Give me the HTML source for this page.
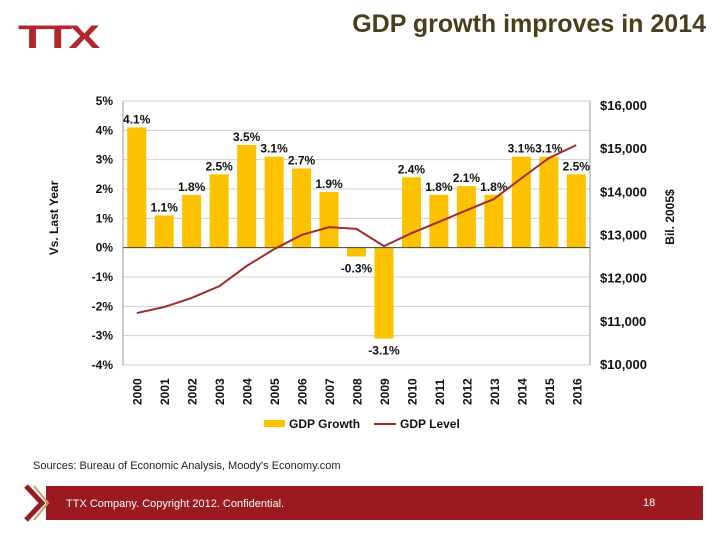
<!DOCTYPE html>
<html><head><meta charset="utf-8">
<style>
body{margin:0;width:720px;height:540px;background:#fff;font-family:"Liberation Sans",Arial,sans-serif;overflow:hidden;position:relative}
.t{position:absolute}
</style></head><body>
<div class="t" style="left:18px;top:20px;font:900 38px 'Liberation Sans',sans-serif;color:#b0272d;letter-spacing:-3px;transform:scale(1.25,0.85);transform-origin:top left">TTX</div>
<div class="t" style="right:14px;top:10px;font:bold 25px 'Liberation Sans',sans-serif;color:#4a3f1c">GDP growth improves in 2014</div>
<svg class="t" style="left:0;top:0" width="720" height="540">
<g id="g"></g>
</svg>
<div class="t" style="left:33px;top:460px;font-size:11px;color:#222">Sources: Bureau of Economic Analysis, Moody's Economy.com</div>
<div class="t" style="left:46px;top:486px;width:657px;height:34px;background:#9b1a1f"></div>
<svg class="t" style="left:22px;top:484px" width="28" height="38"><polyline points="4,2 20,19 4,36" fill="none" stroke="#9b1a1f" stroke-width="5"/><polyline points="12,2 26,19 12,36" fill="none" stroke="#c8a070" stroke-width="2"/></svg>
<div class="t" style="left:66px;top:498px;font-size:11px;color:#fff">TTX Company. Copyright 2012. Confidential.</div>
<div class="t" style="left:643px;top:497px;font-size:11px;color:#fff">18</div>
<script>
const years=["2000","2001","2002","2003","2004","2005","2006","2007","2008","2009","2010","2011","2012","2013","2014","2015","2016"];
const growth=[4.1,1.1,1.8,2.5,3.5,3.1,2.7,1.9,-0.3,-3.1,2.4,1.8,2.1,1.8,3.1,3.1,2.5];
const level=[11180,11320,11530,11800,12270,12660,12990,13170,13130,12730,13030,13290,13560,13820,14300,14770,15070];
const leftTicks=[5,4,3,2,1,0,-1,-2,-3,-4];
const rightTicks=[16000,15000,14000,13000,12000,11000,10000];
const L=123,R=590,T=101,B=365;
const yL=v=>T+(5-v)*(B-T)/9;
const yR=v=>105+(16000-v)*(364-105)/6000;
const bw=(R-L)/years.length;
const xc=i=>L+bw*(i+0.5);
const NS="http://www.w3.org/2000/svg";
const g=document.getElementById('g');
function mk(tag,a,txt){const e=document.createElementNS(NS,tag);for(const k in a)e.setAttribute(k,a[k]);if(txt!==undefined)e.textContent=txt;g.appendChild(e);return e;}
leftTicks.forEach(v=>{
 const y=yL(v);
 const ln=mk('line',{x1:L,x2:R,y1:y,y2:y,stroke:'#d0d0d0','stroke-width':1});
 
 
 const t=mk('text',{x:L-10,y:y+4,'text-anchor':'end','font-size':12,'font-weight':'bold',fill:'#111'},v+'%');
 
 
});
rightTicks.forEach(v=>{
 const t=mk('text',{x:600,y:yR(v)+5,'font-size':13,'font-weight':'bold',fill:'#111'},'$'+v.toLocaleString('en-US'));
 
 
});
mk('line',{x1:L,x2:L,y1:T,y2:B,stroke:'#999'});
mk('line',{x1:R,x2:R,y1:T,y2:B,stroke:'#999'});
growth.forEach((v,i)=>{
 const y0=yL(0),y1=yL(v);
 const r=mk('rect',{x:xc(i)-9.5,y:Math.min(y0,y1),width:19,height:Math.abs(y1-y0),fill:'#fcc200'});
 
 
 const ly=v>=0?y1-4:y1+16;
 const t=mk('text',{x:xc(i),y:ly,'text-anchor':'middle','font-size':12,'font-weight':'bold',fill:'#111'},v.toFixed(1)+'%');
 
 
 const yt=mk('text',{transform:`translate(${xc(i)+5},${B+40}) rotate(-90)`,'font-size':12,'font-weight':'bold',fill:'#111'},years[i]);
 
 
});
mk('line',{x1:L,x2:R,y1:yL(0),y2:yL(0),stroke:'#444'});
const pl=mk('polyline',{points:level.map((v,i)=>xc(i)+','+yR(v)).join(' '),fill:'none',stroke:'#a42a2a','stroke-width':2});


const a1=mk('text',{transform:'translate(58,218) rotate(-90)','text-anchor':'middle','font-size':12,'font-weight':'bold',fill:'#111'},'Vs. Last Year');


const a2=mk('text',{transform:'translate(674,217) rotate(-90)','text-anchor':'middle','font-size':12,'font-weight':'bold',fill:'#111'},'Bil. 2005$');


const s1=mk('rect',{x:264,y:420,width:21,height:7,fill:'#fcc200'});


const l1=mk('text',{x:289,y:428,'font-size':12,'font-weight':'bold',fill:'#111'},'GDP Growth');


const s2=mk('line',{x1:374,x2:396,y1:424,y2:424,stroke:'#a42a2a','stroke-width':2});


const l2=mk('text',{x:400,y:428,'font-size':12,'font-weight':'bold',fill:'#111'},'GDP Level');


</script>
</body></html>
